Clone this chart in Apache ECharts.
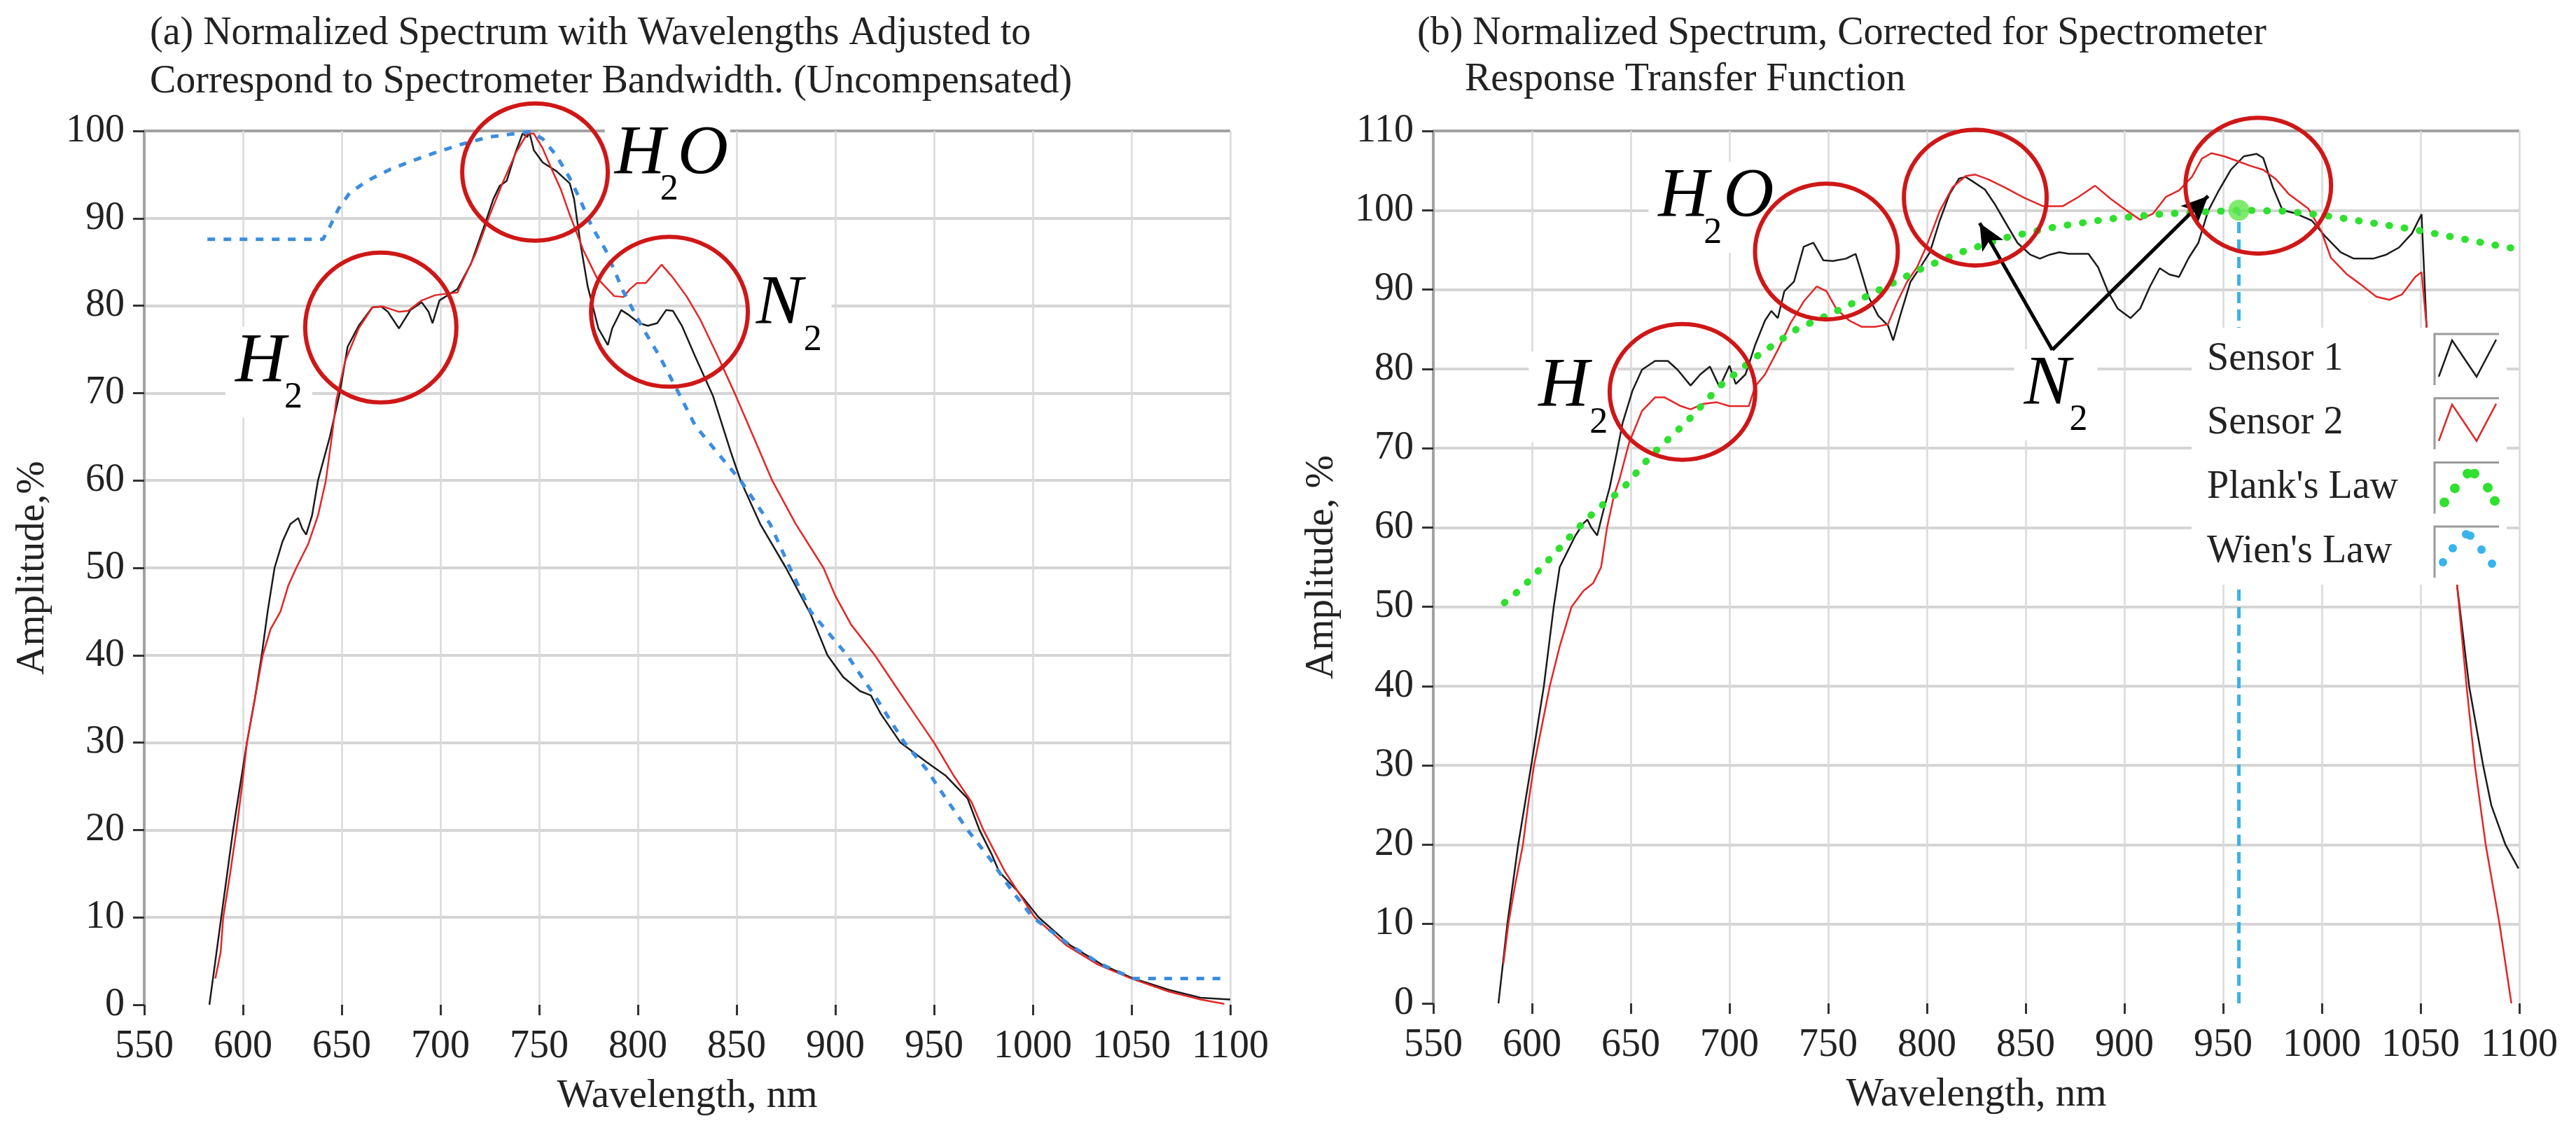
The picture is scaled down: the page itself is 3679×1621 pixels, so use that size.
<!DOCTYPE html>
<html>
<head>
<meta charset="utf-8">
<script src="https://cdn.jsdelivr.net/npm/echarts@6/dist/echarts.min.js"></script>
<style>
html, body { margin: 0; padding: 0; background: #fff; }
#plot { width: 3679px; height: 1621px; }
</style>
</head>
<body>
<div id="plot"></div>
<script>
var FONT = '"Liberation Serif", "Times New Roman", serif';

// ---- (a) uncompensated spectrum ----
var aS1Wl = [583, 586, 589, 592, 595, 598.5, 602, 606, 609.5, 612.5, 616, 620, 624, 628, 630, 632, 635, 638, 644, 649,
  653, 658.6, 665.5, 670, 673.4, 679, 684.8, 690.5, 694, 696, 699.5, 703, 708.6, 715.5, 722, 726.8, 730, 733.6, 738, 741.6,
  744, 745, 747.3, 751.8, 758.7, 765.5, 767.7, 771, 774.6, 780, 784.8, 787, 791.6, 795, 800.7, 805, 809.8, 814.3, 817.8, 822.3,
  829, 838, 847.3, 852, 862, 875, 887.5, 896, 904, 912.5, 918, 923, 933, 946, 956, 967, 973, 979, 983, 992,
  1003, 1019, 1035, 1051, 1069, 1085, 1100];
var aS1Amp = [0, 5, 10, 15, 20, 25, 30, 35, 40, 45, 50, 53, 55, 55.7, 54.5, 53.8, 56, 60, 65, 70,
  75.3, 77.7, 79.8, 79.9, 79.3, 77.4, 79.5, 80.4, 79.3, 78, 80.6, 81.1, 81.9, 84.8, 89, 92.2, 93.7, 94.3, 97.5, 99.7,
  99.3, 99.9, 97.8, 96.4, 95.4, 94, 92.2, 87, 82.2, 77.4, 75.5, 77.4, 79.5, 79, 78, 77.7, 78, 79.5, 79.4, 77.7,
  74.2, 69.7, 63.1, 60, 55, 50, 44.7, 40, 37.5, 35.9, 35.4, 33.3, 30, 27.8, 26.2, 23.6, 20, 17.3, 15.2, 13.1,
  10, 6.8, 4.6, 3, 1.7, 0.8, 0.6];

var aS2Wl = [586, 588.7, 590, 593.5, 596.7, 599.5, 602, 606, 610, 614, 619, 623, 627, 633, 638, 642, 645, 647.3, 651.8, 658.6,
  665.5, 671, 679, 683.6, 690.5, 697.3, 704, 708.6, 711, 717.7, 724.5, 731.4, 738.2, 744, 747.3, 751.8, 756.4, 761, 765.5, 772.3,
  779.2, 788, 792.7, 796, 799.6, 804, 807.5, 812, 817.8, 824.6, 831.4, 840.5, 849.6, 861, 868, 880, 894, 900, 908, 920,
  931, 940, 950, 960, 969, 975, 986, 1001, 1017, 1033, 1050, 1069, 1085, 1097];
var aS2Amp = [3, 6, 10, 15, 20, 25, 30, 35, 40, 43, 45, 48, 50, 52.7, 56, 60, 65, 69.2, 73.7, 77.4,
  79.8, 79.9, 79.3, 79.4, 80.6, 81.2, 81.4, 81.5, 82.7, 85.9, 90.1, 94, 97.5, 99.7, 99.7, 98, 95.6, 93.3, 90.4, 86.4,
  83.2, 81.1, 81, 81.9, 82.6, 82.6, 83.5, 84.7, 83.2, 81.1, 78.5, 74.2, 69.7, 63.7, 60, 55, 50, 46.8, 43.5, 40,
  36.3, 33.3, 30, 26.2, 23.2, 20, 15.2, 10, 6.8, 4.6, 3, 1.5, 0.6, 0.1];

var aRefWl = [582, 600, 620, 640.5, 643.9, 648.4, 654, 663, 674.5, 686, 697.3, 711, 724.5, 738, 745, 751.8, 758.7, 765.5, 770, 776.8,
  783.6, 792.7, 801.8, 811, 820, 829, 840.5, 852, 867, 877, 887.5, 906, 921, 935, 946, 956, 967, 979, 989.6, 1000,
  1019, 1035, 1051, 1070, 1095];
var aRefAmp = [87.6, 87.6, 87.6, 87.6, 89, 91.1, 92.9, 94.3, 95.6, 96.6, 97.5, 98.5, 99.3, 99.7, 99.9, 99.1, 97.2, 94.6, 92.5, 89,
  86.4, 81.6, 77.7, 74.2, 70.3, 66.3, 63.1, 60, 55, 50, 45, 40, 35, 30, 27, 23.6, 20, 16.5, 13, 10,
  6.8, 4.6, 3, 3, 3];

// ---- (b) corrected spectrum ----
var bS1Wl = [583, 587.5, 593, 599.6, 606, 611, 614, 618, 622, 626, 628, 630, 633, 636, 639.3, 643, 645.9, 650.8, 655.7, 662.3,
  668.8, 673.7, 680.3, 685.2, 690.1, 695, 700, 703.2, 708.1, 713, 718, 721.2, 724.5, 727.8, 732.7, 737.6, 742.5, 747.5, 752.4, 759,
  763.9, 767.1, 770.4, 775.3, 780.2, 782.9, 786.8, 791.7, 796.6, 801.5, 806.5, 811.4, 816.3, 819.6, 822.8, 829.4, 834.3, 839.2, 845.8, 852.3,
  857.2, 862.2, 867.1, 872, 881.8, 886.7, 891.6, 896.6, 903.1, 908, 913, 917.9, 922.8, 927.7, 932.6, 937.5, 942.4, 947.4, 953.9, 960.5,
  967, 970.3, 975.2, 980.1, 986.7, 994.9, 1001.4, 1009.6, 1016.2, 1026, 1032.6, 1039.1, 1045.7, 1050.5, 1053, 1056, 1060, 1064, 1068.5, 1074.6,
  1081.7, 1085.8, 1093, 1099.6];
var bS1Amp = [0, 10, 20, 30, 40, 50, 55, 57, 59, 60.5, 61, 60, 59, 62, 65, 69.5, 73.2, 77.2, 79.9, 81,
  81, 79.9, 77.9, 79.3, 80.3, 77.7, 80.4, 78.1, 79.3, 83, 86.1, 87.3, 86.4, 89.8, 91, 95.4, 95.9, 93.7, 93.6, 93.9,
  94.5, 91.9, 89.1, 86.7, 85.5, 83.6, 87, 91, 92.8, 94.7, 98.7, 102, 104, 104.2, 103.7, 102.6, 100.8, 98.7, 95.9, 94.4,
  93.9, 94.4, 94.7, 94.5, 94.5, 92.8, 89.8, 87.6, 86.4, 87.6, 90.4, 92.7, 91.9, 91.6, 94, 95.9, 99.9, 102.3, 105.1, 106.8,
  107.1, 106.6, 102.9, 100, 99.6, 98.7, 96.8, 94.7, 93.9, 93.9, 94.4, 95.3, 97.1, 99.5, 85.5, 75, 66, 59, 52.7, 40,
  30, 25, 20, 17];

var bS2Wl = [585.5, 588, 591.5, 595.4, 598, 601, 605, 609, 614, 620, 626, 631, 635, 638, 641.5, 644.2, 649.2, 655.7, 662.3, 667.2,
  675.4, 680.3, 686.8, 693.4, 700, 709.8, 713, 718, 724.5, 731, 737.6, 744.2, 749.1, 754, 760.6, 767, 773.7, 780.2, 785.1, 790,
  795, 800, 806.5, 813, 819.6, 824.5, 831, 839.2, 849, 858.9, 868.7, 876.9, 885.1, 893.3, 901.5, 908, 914.6, 921.1, 927.7, 934.2,
  939.2, 944.1, 950.6, 957.2, 963.8, 970.3, 976.8, 983.4, 993.2, 999.7, 1004.6, 1012.8, 1019.4, 1027.6, 1034.2, 1040.7, 1047.3, 1050.5, 1053, 1057,
  1061, 1064.5, 1068.5, 1073.3, 1077.5, 1083, 1090, 1096];
var bS2Amp = [5, 10, 15, 20, 25, 30, 35, 40, 45, 50, 52, 53, 55, 60, 64, 66, 70.7, 74.7, 76.4, 76.4,
  75.3, 74.9, 75.6, 75.8, 75.3, 75.3, 77.8, 79.3, 82.4, 85.8, 88.5, 90.4, 89.8, 87.6, 86.1, 85.3, 85.3, 85.6, 88.5, 91,
  92.8, 95.6, 99.9, 102.9, 104.3, 104.5, 103.9, 102.9, 101.6, 100.5, 100.5, 101.7, 103.1, 101.4, 99.9, 98.8, 99.6, 101.7, 102.5, 104.2,
  106.5, 107.2, 106.8, 106.2, 105.6, 105.1, 103.9, 102, 100.2, 97.4, 94, 91.9, 90.7, 89.1, 88.7, 89.4, 91.6, 92.2, 85.5, 75,
  65, 58, 52.7, 40, 30, 20, 10, 0];

var plankWl = [586, 595, 608, 622, 633, 646, 660, 679, 695, 715, 734, 757, 777, 797, 816, 839, 865, 892, 918, 941,
  959, 980, 1000, 1023, 1046, 1069, 1092, 1097];
var plankAmp = [50.5, 52.4, 55.8, 59.6, 62.3, 64.9, 69, 73.5, 77.8, 81.8, 85, 87.6, 90.1, 92.6, 94.6, 96.5, 97.9, 98.9, 99.5, 99.8,
  100, 99.9, 99.4, 98.5, 97.6, 96.5, 95.4, 95.2];

var wienWl = [958, 958];
var wienAmp = [0, 100];
var peakWl = [958];
var peakAmp = [100];

// annotations (data units; ring radii in px)
var aRings = [[669.8, 77.5, 108, 107], [747.9, 95.3, 104, 98], [816, 79.3, 112, 107]];
var bRings = [[676.2, 77.1, 104, 97], [749.1, 94.8, 102, 97], [824.5, 101.6, 102, 97], [967.8, 103.1, 104, 97]];
var aChem = [
  {at: [596.1, 70.8], parts: [['H', 0], ['2', 70]]},
  {at: [788.2, 94.6], parts: [['H', 0], ['2', 65], ['O', 90]]},
  {at: [859.8, 77.4], parts: [['N', 0], ['2', 68]]}
];
var bChem = [
  {at: [603.3, 74.7], parts: [['H', 0], ['2', 73]]},
  {at: [663.9, 98.6], parts: [['H', 0], ['2', 65], ['O', 93]]},
  {at: [849.1, 75.0], parts: [['N', 0], ['2', 65]]}
];
var arrowFrom = [863.5, 82.4];
var arrowTo = [[826.7, 98.4], [942.4, 101.8]];

var keyNames = ['Sensor 1', 'Sensor 2', "Plank's Law", "Wien's Law"];

function zip(xs, ys) {
  return xs.map(function (x, i) { return [x, ys[i]]; });
}

function plainNum(v) { return String(v); }

function xAxisOpt(g) {
  return {
    type: 'value', gridIndex: g, min: 550, max: 1100, interval: 50,
    name: 'Wavelength, nm', nameLocation: 'middle', nameGap: 93, nameMoveOverlap: false,
    nameTextStyle: {fontFamily: FONT, fontSize: 57, color: '#222'},
    offset: 10,
    axisLine: {show: false},
    axisTick: {show: true, length: 15, lineStyle: {color: '#333', width: 3}},
    axisLabel: {fontFamily: FONT, fontSize: 56, color: '#222', margin: 22, showMinLabel: true, showMaxLabel: true, formatter: plainNum},
    splitLine: {show: true, lineStyle: {color: '#dadada', width: 2.5}}
  };
}

function yAxisOpt(g, max, name) {
  var colors = ['rgba(0,0,0,0)'];
  for (var v = 10; v < max; v += 10) colors.push('#d5d5d5');
  colors.push('#a2a2a2');
  return {
    type: 'value', gridIndex: g, min: 0, max: max, interval: 10,
    name: name, nameLocation: 'middle', nameGap: 130, nameRotate: 90, nameMoveOverlap: false,
    nameTextStyle: {fontFamily: FONT, fontSize: 57, color: '#222'},
    axisLine: {show: true, lineStyle: {color: '#a2a2a2', width: 4}},
    axisTick: {show: true, length: 16, lineStyle: {color: '#333', width: 3}},
    axisLabel: {fontFamily: FONT, fontSize: 56, color: '#222', margin: 28, showMinLabel: true, showMaxLabel: true, formatter: plainNum},
    splitLine: {show: true, lineStyle: {color: colors, width: 4}}
  };
}

function lineSeries(name, g, data, style, z) {
  return {
    name: name, type: 'line', xAxisIndex: g, yAxisIndex: g, data: data,
    symbol: 'none', showSymbol: false, lineStyle: style, z: z || 2,
    emphasis: {disabled: true}
  };
}

var titleStyle = {fontFamily: FONT, fontSize: 56, fontWeight: 'normal', color: '#222'};

var myChart = echarts.init(document.getElementById('plot'));

var option = {
  backgroundColor: '#fff',
  animation: false,
  title: [
    {text: '(a) Normalized Spectrum with Wavelengths Adjusted to', left: 214, top: 20},
    {text: 'Correspond to Spectrometer Bandwidth. (Uncompensated)', left: 214, top: 89},
    {text: '(b) Normalized Spectrum, Corrected for Spectrometer', left: 2024, top: 20},
    {text: 'Response Transfer Function', left: 2092, top: 86}
  ].map(function (t) { t.padding = 0; t.textStyle = titleStyle; return t; }),
  grid: [
    {left: 206, right: 1922, top: 187, bottom: 186, outerBoundsMode: 'none'},
    {left: 2047, right: 81, top: 187, bottom: 188, outerBoundsMode: 'none'}
  ],
  xAxis: [xAxisOpt(0), xAxisOpt(1)],
  yAxis: [yAxisOpt(0, 100, 'Amplitude,%'), yAxisOpt(1, 110, 'Amplitude, %')],
  series: [
    lineSeries('Sensor 1', 0, zip(aS1Wl, aS1Amp), {color: '#1b1b1b', width: 2.5}),
    lineSeries('Sensor 2', 0, zip(aS2Wl, aS2Amp), {color: '#e32626', width: 2.5}),
    lineSeries('Reference', 0, zip(aRefWl, aRefAmp), {color: '#3b8de0', width: 5, type: [11, 12]}, 3),
    Object.assign(lineSeries('Sensor 1', 1, zip(bS1Wl, bS1Amp), {color: '#1b1b1b', width: 2.5}), {
      markLine: {
        silent: true, animation: false, symbol: ['none', 'arrow'], symbolSize: [26, 38],
        label: {show: false}, emphasis: {disabled: true},
        lineStyle: {color: '#000', width: 5, type: 'solid'},
        data: arrowTo.map(function (p) { return [{coord: arrowFrom}, {coord: p}]; })
      }
    }),
    lineSeries('Sensor 2', 1, zip(bS2Wl, bS2Amp), {color: '#e32626', width: 2.5}),
    lineSeries("Plank's Law", 1, zip(plankWl, plankAmp), {color: '#2fe02f', width: 10, type: [1, 21], cap: 'round'}, 3),
    lineSeries("Wien's Law", 1, zip(wienWl, wienAmp), {color: '#39b3ec', width: 5, type: [16, 9]}, 3),
    {
      name: 'Peak', type: 'scatter', xAxisIndex: 1, yAxisIndex: 1, data: zip(peakWl, peakAmp),
      symbolSize: 30, itemStyle: {color: '#5fe64a'}, z: 4, emphasis: {disabled: true}
    }
  ]
};

myChart.setOption(option);

// annotations: rings, molecule labels, key box
var gfx = [];
function toPx(g, p) { return myChart.convertToPixel({gridIndex: g}, p); }

function addRings(g, rings) {
  rings.forEach(function (r) {
    var c = toPx(g, [r[0], r[1]]);
    gfx.push({
      type: 'ellipse', z: 20, silent: true,
      shape: {cx: c[0], cy: c[1], rx: r[2], ry: r[3]},
      style: {fill: 'none', stroke: '#cf1717', lineWidth: 6}
    });
  });
}

function addChem(g, labels) {
  labels.forEach(function (lb) {
    var p = toPx(g, lb.at);
    var last = lb.parts[lb.parts.length - 1];
    var right = p[0] + last[1] + (/\d/.test(last[0]) ? 40 : 75);
    gfx.push({
      type: 'rect', z: 1, silent: true,
      shape: {x: p[0] - 14, y: p[1] - 85, width: right - p[0] + 14, height: 130},
      style: {fill: '#fff'}
    });
    lb.parts.forEach(function (pt) {
      var sub = /\d/.test(pt[0]);
      gfx.push({
        type: 'text', z: 21, silent: true,
        style: {
          text: pt[0], x: p[0] + pt[1], y: sub ? p[1] + 17 : p[1] - 34,
          font: sub ? '52px ' + FONT : 'italic 100px ' + FONT,
          fill: '#000', align: 'left', verticalAlign: 'middle'
        }
      });
    });
  });
}

addRings(0, aRings);
addRings(1, bRings);
addChem(0, aChem);
addChem(1, bChem);

// key box for panel (b)
var keyX = 3130, keyY = 468, keyW = 450, keyH = 367;
var rowTop0 = 477, rowStep = 91.7, iconX = 3477, iconW = 92, iconH = 73;
gfx.push({type: 'rect', z: 30, silent: true, shape: {x: keyX, y: keyY, width: keyW, height: keyH}, style: {fill: '#fff'}});
var zig = [[6, 61], [25, 9], [60, 61], [88, 8]];
var greenDots = [[14, 57], [29, 37], [47, 16], [57, 16], [76, 36], [86, 55]];
var blueDots = [[12, 51], [26, 31], [45, 11], [51, 13], [67, 33], [82, 53]];
keyNames.forEach(function (name, i) {
  var top = rowTop0 + i * rowStep;
  gfx.push({
    type: 'text', z: 31, silent: true,
    style: {text: name, x: 3152, y: top + 36, font: '56px ' + FONT, fill: '#222', verticalAlign: 'middle'}
  });
  gfx.push({
    type: 'polyline', z: 31, silent: true,
    shape: {points: [[iconX, top + iconH], [iconX, top], [iconX + iconW, top]]},
    style: {fill: 'none', stroke: '#9a9a9a', lineWidth: 3}
  });
  if (i < 2) {
    gfx.push({
      type: 'polyline', z: 31, silent: true,
      shape: {points: zig.map(function (q) { return [iconX + q[0], top + q[1]]; })},
      style: {fill: 'none', stroke: i === 0 ? '#1b1b1b' : '#e32626', lineWidth: 2.5}
    });
  } else {
    var dots = i === 2 ? greenDots : blueDots;
    dots.forEach(function (q) {
      gfx.push({
        type: 'circle', z: 31, silent: true,
        shape: {cx: iconX + q[0], cy: top + q[1], r: i === 2 ? 7 : 6},
        style: {fill: i === 2 ? '#2fe02f' : '#39b3ec'}
      });
    });
  }
});

myChart.setOption({graphic: gfx});
</script>
</body>
</html>
